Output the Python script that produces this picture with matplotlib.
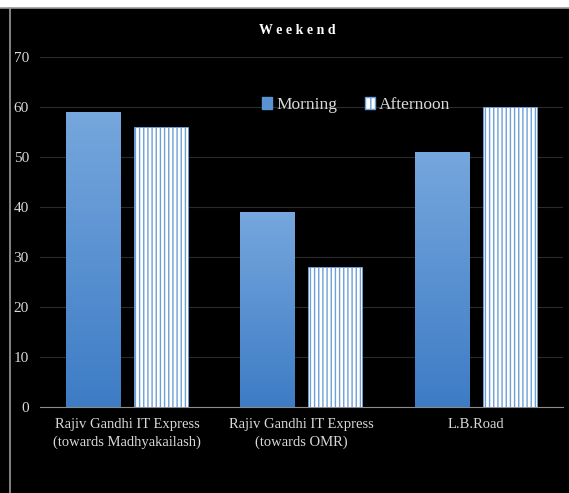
import numpy as np
import matplotlib
matplotlib.use("Agg")
import matplotlib.pyplot as plt
from matplotlib.lines import Line2D
from matplotlib.patches import Rectangle

categories = ["Rajiv Gandhi IT Express\n(towards Madhyakailash)",
              "Rajiv Gandhi IT Express\n(towards OMR)",
              "L.B.Road"]
morning = [59, 39, 51]
afternoon = [56, 28, 60]
series_names = ["Morning", "Afternoon"]
yticks = [0, 10, 20, 30, 40, 50, 60, 70]

plt.rcParams["font.family"] = ["Liberation Serif", "DejaVu Serif"]

fig = plt.figure(figsize=(5.69, 4.93), dpi=100, facecolor="black")
ax = fig.add_axes([0.0703, 0.1744, 0.919, 0.710])
ax.set_facecolor("black")

x = np.arange(len(categories))
w = 0.31
gap = 0.08
off = (w + gap) / 2

# Morning bars with a vertical blue gradient
grad = np.linspace(0, 1, 256).reshape(-1, 1)
cmap = matplotlib.colors.LinearSegmentedColormap.from_list(
    "blue", ["#3d7cc5", "#76a7dd"])
mbars = ax.bar(x - off, morning, w, color="#5a92d2", edgecolor="#3a70b0",
               linewidth=0.6, zorder=3)
for b in mbars:
    x0, y0 = b.get_x(), b.get_y()
    im = ax.imshow(grad, extent=[x0, x0 + b.get_width(), y0, y0 + b.get_height()],
                   origin="lower", cmap=cmap, aspect="auto", zorder=3.1)
    im.set_clip_path(b)

# Afternoon bars: white with vertical blue stripes
plt.rcParams["hatch.linewidth"] = 1.0
plt.rcParams["hatch.color"] = "#6c9fd8"
abars = ax.bar(x + off, afternoon, w, color="white", edgecolor="#6c9fd8",
               hatch="||||", linewidth=0.6, zorder=3)

ax.set_xlim(-0.5, 2.5)
ax.set_ylim(0, 70)
ax.set_yticks(yticks)
ax.set_xticks(x)
ax.set_xticklabels(categories, linespacing=1.45)
ax.tick_params(axis="both", colors="#d9d9d9", length=0)
ax.tick_params(axis="y", pad=8, labelsize=11)
ax.tick_params(axis="x", pad=8, labelsize=10.5)
ax.yaxis.grid(True, color="#2b2b2b", linewidth=0.8, zorder=0)
ax.set_axisbelow(True)
for s in ["top", "right", "left"]:
    ax.spines[s].set_visible(False)
ax.spines["bottom"].set_color("#8c8c8c")
ax.spines["bottom"].set_linewidth(0.8)

fig.text(0.522, 0.939, "W e e k e n d", color="white", fontsize=10,
         fontweight="bold", ha="center", va="center")

handles = [Rectangle((0, 0), 1, 1, facecolor="#5a92d2", edgecolor="#5a92d2"),
           Rectangle((0, 0), 1, 1, facecolor="white", edgecolor="#6c9fd8",
                     hatch="||")]
leg = ax.legend(handles, series_names, loc="center", bbox_to_anchor=(0.605, 0.864),
                ncol=2, frameon=False, fontsize=12.5, labelcolor="#d9d9d9",
                handlelength=0.55, handleheight=0.7, handletextpad=0.25,
                columnspacing=1.6)

# Page border lines
fig.patches.append(Rectangle((0, 0.984), 1, 0.016, transform=fig.transFigure,
                             facecolor="white", edgecolor="none"))
fig.lines.append(Line2D([0, 1], [0.983, 0.983], transform=fig.transFigure,
                        color="#9a9a9a", linewidth=1.2))
fig.lines.append(Line2D([0.017, 0.017], [0, 0.983], transform=fig.transFigure,
                        color="#9a9a9a", linewidth=1.2))

fig.savefig("out.png", dpi=100, facecolor="black")
